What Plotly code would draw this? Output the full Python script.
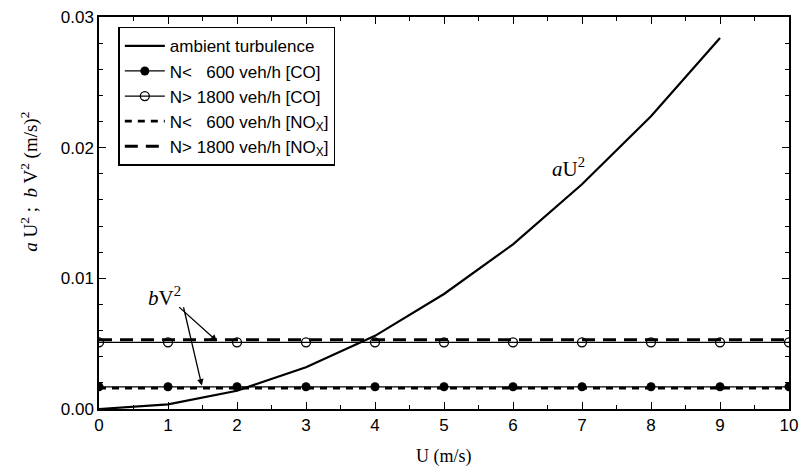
import plotly.graph_objects as go

# Wind speed (m/s)
u = [0, 1, 2, 3, 4, 5, 6, 7, 8, 9]
u_full = [0, 1, 2, 3, 4, 5, 6, 7, 8, 9, 10]

# Ambient turbulence term a*U^2
ambient = [0.0, 0.00035, 0.0014, 0.0032, 0.0056, 0.0088, 0.0126, 0.0172, 0.0224, 0.0284]

# Traffic-produced turbulence b*V^2
co_low = [0.0017] * 11
co_high = [0.0051] * 11
nox_low = [0.0016] * 11
nox_high = [0.0053] * 11

serif = "Liberation Serif, Times New Roman, serif"
sans = "Liberation Sans, Arial, sans-serif"

fig = go.Figure()

fig.add_trace(go.Scatter(x=u, y=ambient, mode="lines", name="ambient turbulence",
                         line=dict(color="black", width=2.2)))
fig.add_trace(go.Scatter(x=u_full, y=co_low, mode="lines+markers",
                         name="N<   600 veh/h [CO]",
                         line=dict(color="black", width=1.2),
                         marker=dict(symbol="circle", size=9, color="black")))
fig.add_trace(go.Scatter(x=u_full, y=co_high, mode="lines+markers",
                         name="N> 1800 veh/h [CO]",
                         line=dict(color="black", width=1.2),
                         marker=dict(symbol="circle-open", size=9, color="black",
                                     line=dict(width=1.3))))
fig.add_trace(go.Scatter(x=u_full, y=nox_low, mode="lines",
                         name="N<   600 veh/h [NO<sub>X</sub>]",
                         line=dict(color="black", width=2.8, dash="7px,6px")))
fig.add_trace(go.Scatter(x=u_full, y=nox_high, mode="lines",
                         name="N> 1800 veh/h [NO<sub>X</sub>]",
                         line=dict(color="black", width=2.8, dash="13px,8px")))

arrow = dict(showarrow=True, arrowhead=2, arrowsize=1, arrowwidth=1.3,
             arrowcolor="black", axref="x", ayref="y", xref="x", yref="y", text="")

fig.update_layout(
    width=799, height=468,
    margin=dict(l=99, r=10, t=17, b=59),
    paper_bgcolor="white", plot_bgcolor="white",
    showlegend=True,
    legend=dict(x=0.028, y=0.975, xanchor="left", yanchor="top",
                bordercolor="black", borderwidth=1.5, bgcolor="white",
                font=dict(family=sans, size=17, color="black"),
                tracegroupgap=0, itemwidth=40),
    xaxis=dict(range=[0, 10], dtick=1, ticks="inside", ticklen=7, automargin=False,
               minor=dict(dtick=0.5, ticks="inside", ticklen=4, tickcolor="black"),
               showline=True, linecolor="black", linewidth=1.5, mirror="ticks",
               showgrid=False, zeroline=False, tickcolor="black",
               tickfont=dict(family=sans, size=17, color="black")),
    yaxis=dict(range=[0, 0.03], dtick=0.01, tickformat=".2f", ticks="inside", ticklen=7,
               automargin=False,
               minor=dict(dtick=0.002, ticks="inside", ticklen=4, tickcolor="black"),
               showline=True, linecolor="black", linewidth=1.5, mirror="ticks",
               showgrid=False, zeroline=False, tickcolor="black",
               tickfont=dict(family=sans, size=17, color="black")),
    annotations=[
        # axis titles
        dict(x=0.5, y=0, xref="paper", yref="paper", yanchor="middle", yshift=-47,
             showarrow=False, text="U (m/s)",
             font=dict(family=serif, size=18, color="black")),
        dict(x=0, y=0.58, xref="paper", yref="paper", xanchor="center", xshift=-69,
             textangle=-90, showarrow=False,
             text="<i>a</i> U<sup>2</sup> ;  <i>b</i> V<sup>2</sup> (m/s)<sup>2</sup>",
             font=dict(family=serif, size=19, color="black")),
        # curve labels
        dict(x=6.8, y=0.0185, xref="x", yref="y", showarrow=False,
             text="<i>a</i>U<sup>2</sup>", font=dict(family=serif, size=21, color="black")),
        dict(x=0.95, y=0.0086, xref="x", yref="y", showarrow=False,
             text="<i>b</i>V<sup>2</sup>", font=dict(family=serif, size=21, color="black")),
        dict(x=1.71, y=0.0052, ax=1.14, ay=0.0079, **arrow),
        dict(x=1.49, y=0.0018, ax=1.22, ay=0.0079, **arrow),
    ],
)

fig.write_html("out.html")
